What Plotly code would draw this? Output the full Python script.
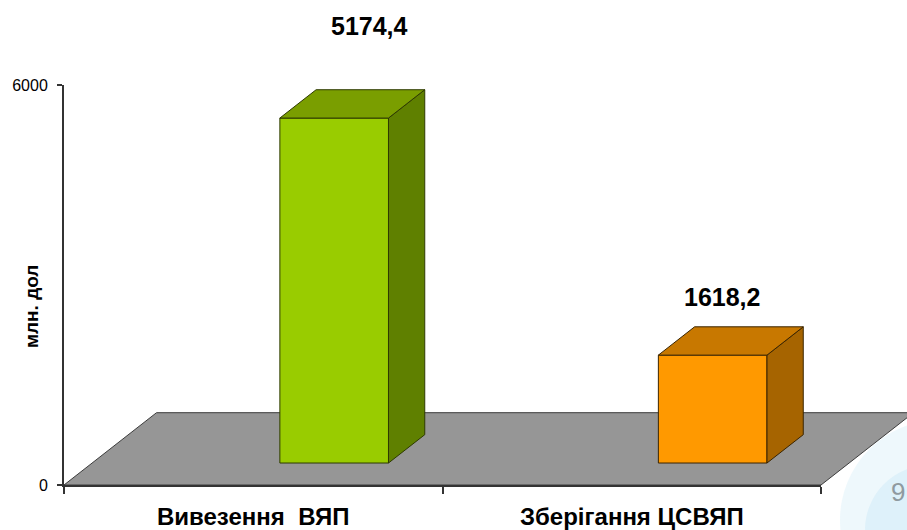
import plotly.graph_objects as go

# ---------------- data ----------------
categories = ["Вивезення  ВЯП", "Зберігання ЦСВЯП"]
values = [5174.4, 1618.2]
value_labels = ["5174,4", "1618,2"]
y_tick_vals = [0, 6000]
y_tick_text = ["0", "6000"]
y_title = "млн. дол"
page_number = "9"

# ---------------- style ----------------
front_colors = ["#99CC00", "#FF9900"]
top_colors = ["#7A9E00", "#C87800"]
side_colors = ["#5F8000", "#A66400"]
edge_colors = ["#2E3A00", "#3A2400"]
floor_color = "#969696"
label_xshift = [17, -9]
label_yshift = [64, 30]

W, H = 907, 530
PX_LEFT, PX_RIGHT = 64, 821
PX_TOP, PX_BOTTOM = 85, 485
X_MAX, Y_MAX = len(categories), 6000
ux = (PX_RIGHT - PX_LEFT) / X_MAX
uy = (PX_BOTTOM - PX_TOP) / Y_MAX

DEPTH_DX = 92.5 / ux
DEPTH_DY = 72.3 / uy
FRONT_F, BACK_F = 0.304, 0.696
BAR_W = 0.287
BAR_SHIFT = -0.004
FONT = "Arial, 'Liberation Sans', sans-serif"

fig = go.Figure()


def poly(xs, ys, fill, edge, width=1):
    fig.add_trace(go.Scatter(
        x=xs + [xs[0]], y=ys + [ys[0]], mode="lines", fill="toself",
        fillcolor=fill, line=dict(color=edge, width=width),
        hoverinfo="skip", showlegend=False, xaxis="x", yaxis="y"))


# floor
poly([0, X_MAX, X_MAX + DEPTH_DX, DEPTH_DX],
     [0, 0, DEPTH_DY, DEPTH_DY], floor_color, "#3c3c3c", 1)

# bars
fdx, fdy = FRONT_F * DEPTH_DX, FRONT_F * DEPTH_DY
bdx, bdy = BACK_F * DEPTH_DX, BACK_F * DEPTH_DY
for i, v in enumerate(values):
    L = i + 0.5 + BAR_SHIFT
    R = L + BAR_W
    poly([L + fdx, R + fdx, R + fdx, L + fdx],
         [fdy, fdy, fdy + v, fdy + v], front_colors[i], edge_colors[i])
    poly([R + fdx, R + bdx, R + bdx, R + fdx],
         [fdy, bdy, bdy + v, fdy + v], side_colors[i], edge_colors[i])
    poly([L + fdx, R + fdx, R + bdx, L + bdx],
         [fdy + v, fdy + v, bdy + v, bdy + v], top_colors[i], edge_colors[i])
    fig.add_annotation(
        x=(L + R) / 2 + (fdx + bdx) / 2, y=v + bdy, xref="x", yref="y",
        text="<b>" + value_labels[i] + "</b>", showarrow=False,
        xshift=label_xshift[i], yshift=label_yshift[i],
        font=dict(family=FONT, size=25, color="#000000"))

fig.add_trace(go.Scatter(x=[0, X_MAX], y=[0, Y_MAX], mode="markers",
                         marker=dict(opacity=0), hoverinfo="skip",
                         showlegend=False, xaxis="x2", yaxis="y2"))

for i, c in enumerate(categories):
    fig.add_annotation(x=i + 0.5, y=0, xref="x2", yref="y2", text="<b>" + c + "</b>",
                       showarrow=False, yanchor="middle", yshift=-31,
                       font=dict(family=FONT, size=24, color="#000000"))

fig.add_annotation(x=31 / W, y=1 - 307 / H, xref="paper", yref="paper",
                   xanchor="center", yanchor="middle",
                   text="<b>" + y_title + "</b>", textangle=-90, showarrow=False,
                   font=dict(family=FONT, size=19, color="#000000"))

for cx, cy, r, col in [(940, 520, 100, "rgba(200,232,246,0.30)"),
                       (930, 530, 65, "rgba(185,226,244,0.30)")]:
    fig.add_shape(type="circle", xref="paper", yref="paper", layer="below",
                  x0=(cx - r) / W, x1=(cx + r) / W, y0=1 - (cy + r) / H, y1=1 - (cy - r) / H,
                  fillcolor=col, line=dict(width=0))
fig.add_annotation(x=1, y=1 - 492 / H, xref="paper", yref="paper", text=page_number,
                   showarrow=False, xanchor="right", yanchor="middle",
                   font=dict(family=FONT, size=26, color="#8f9aa0"))

fig.update_layout(
    width=W, height=H, autosize=False,
    margin=dict(l=0, r=0, t=0, b=0, pad=0, autoexpand=False),
    paper_bgcolor="white", plot_bgcolor="rgba(0,0,0,0)", showlegend=False,
    xaxis=dict(domain=[0, 1], range=[-PX_LEFT / ux, (W - PX_LEFT) / ux],
               visible=False, fixedrange=True, automargin=False),
    yaxis=dict(domain=[0, 1], range=[-(H - PX_BOTTOM) / uy, PX_BOTTOM / uy],
               visible=False, fixedrange=True, automargin=False),
    xaxis2=dict(domain=[PX_LEFT / W, PX_RIGHT / W], range=[0, X_MAX], anchor="y2",
                showline=True, linecolor="#333333", linewidth=2, showgrid=False,
                zeroline=False, tickvals=list(range(X_MAX + 1)), showticklabels=False,
                ticks="outside", ticklen=7, tickwidth=1.5, tickcolor="#333333",
                fixedrange=True, automargin=False),
    yaxis2=dict(domain=[(H - PX_BOTTOM) / H, (H - PX_TOP) / H], range=[0, Y_MAX],
                anchor="x2", showline=True, linecolor="#333333", linewidth=2,
                showgrid=False, zeroline=False, tickvals=y_tick_vals, ticktext=y_tick_text,
                ticks="outside", ticklen=5, tickwidth=1.5, tickcolor="#333333",
                ticklabelstandoff=6,
                tickfont=dict(family=FONT, size=16, color="#000000"),
                fixedrange=True, automargin=False),
)

fig.write_html("out.html",
               config={"responsive": False, "displayModeBar": False},
               post_script="document.body.style.margin='0px';"
                           "document.body.style.overflow='hidden';")
